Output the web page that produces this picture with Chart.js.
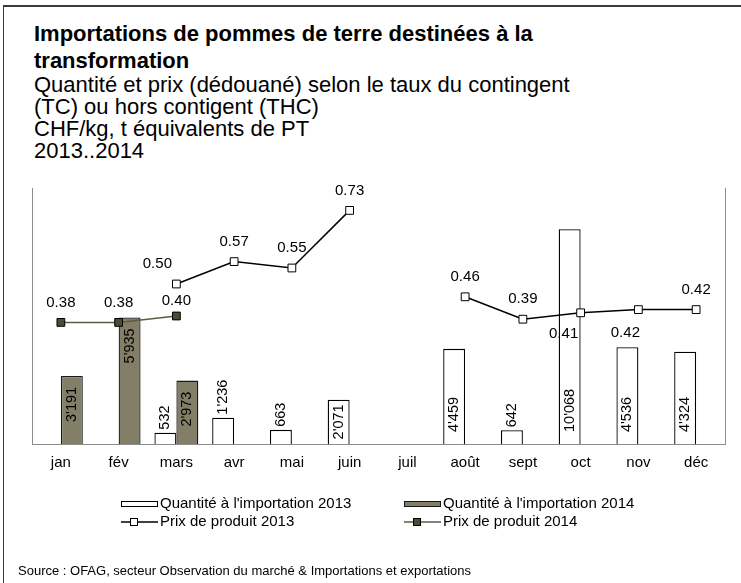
<!DOCTYPE html>
<html>
<head>
<meta charset="utf-8">
<script src="https://cdn.jsdelivr.net/npm/chart.js@4"></script>
<style>
  html, body { margin: 0; padding: 0; background: #fff; }
  #wrap { position: relative; width: 741px; height: 583px; overflow: hidden; font-family: "Liberation Sans", Arial, sans-serif; color: #000; }
  #frame { position: absolute; left: 3px; top: 5px; right: -10px; bottom: -10px; border-left: 1.5px solid #3a3a3a; border-top: 2px solid #3a3a3a; }
  #title { position: absolute; left: 34px; top: 21px; font-size: 22px; font-weight: bold; line-height: 26.5px; white-space: nowrap; }
  #subtitle { position: absolute; left: 34px; top: 74px; font-size: 22px; line-height: 22px; white-space: nowrap; }
  #source { position: absolute; left: 18px; top: 563px; font-size: 13px; line-height: 15px; white-space: nowrap; }
  #chart { position: absolute; left: 0; top: 0; }
</style>
</head>
<body>
<div id="wrap">
  <div id="frame"></div>
  <div id="title">Importations de pommes de terre destinées à la<br>transformation</div>
  <div id="subtitle">Quantité et prix (dédouané) selon le taux du contingent<br>(TC) ou hors contigent (THC)<br>CHF/kg, t équivalents de PT<br>2013..2014</div>
  <canvas id="chart" width="741" height="583"></canvas>
  <div id="source">Source : OFAG, secteur Observation du marché &amp; Importations et exportations</div>
</div>
<script>
// Data
const months = ['jan', 'fév', 'mars', 'avr', 'mai', 'juin', 'juil', 'août', 'sept', 'oct', 'nov', 'déc'];
const qty2013 = [null, null, 532, 1236, 663, 2071, null, 4459, 642, 10068, 4536, 4324];
const qty2014 = [3191, 5935, 2973, null, null, null, null, null, null, null, null, null];
const price2013 = [null, null, 0.50, 0.57, 0.55, 0.73, null, 0.46, 0.39, 0.41, 0.42, 0.42];
const price2014 = [0.38, 0.38, 0.40, null, null, null, null, null, null, null, null, null];

// label placement tweaks (index -> [dx, dy])
const shift2013 = { 2: [-19, -20], 9: [-17, 21], 10: [-13, 23] };
const shift2014 = { 2: [0, -15] };

const FONT = '"Liberation Sans", Arial, sans-serif';
const OLIVE = '#837e68';

function fmtQty(v) {
    return String(v).replace(/\B(?=(\d{3})+(?!\d))/g, "'");
}

// Value labels for bars and price points
const valueLabels = {
    id: 'valueLabels',
    afterDatasetsDraw(chart) {
        const ctx = chart.ctx;
        ctx.save();
        ctx.fillStyle = '#000';
        chart.data.datasets.forEach((ds, di) => {
            const meta = chart.getDatasetMeta(di);
            meta.data.forEach((el, i) => {
                const v = ds.data[i];
                if (v === null || v === undefined) return;
                if (ds.type === 'bar') {
                    ctx.font = '14.5px ' + FONT;
                    const txt = fmtQty(v);
                    const w = ctx.measureText(txt).width;
                    const h = el.base - el.y;
                    ctx.save();
                    ctx.textBaseline = 'middle';
                    if (ds.labelPos === 'end') {
                        ctx.translate(el.x, el.y + 11);
                        ctx.rotate(-Math.PI / 2);
                        ctx.textAlign = 'right';
                    } else if (h >= w + 24) {
                        ctx.translate(el.x, el.base - 12);
                        ctx.rotate(-Math.PI / 2);
                        ctx.textAlign = 'left';
                    } else if (h >= w + 4) {
                        ctx.translate(el.x, (el.y + el.base) / 2);
                        ctx.rotate(-Math.PI / 2);
                        ctx.textAlign = 'center';
                    } else {
                        ctx.translate(el.x, el.y - 3);
                        ctx.rotate(-Math.PI / 2);
                        ctx.textAlign = 'left';
                    }
                    ctx.fillText(txt, 0, 0);
                    ctx.restore();
                } else {
                    const s = (ds.labelShift && ds.labelShift[i]) || [0, -20];
                    ctx.font = '15px ' + FONT;
                    ctx.textAlign = 'center';
                    ctx.textBaseline = 'middle';
                    ctx.fillText(v.toFixed(2), el.x + s[0], el.y + s[1]);
                }
            });
        });
        ctx.restore();
    }
};

// Legend in two columns
const gridLegend = {
    id: 'gridLegend',
    afterDraw(chart) {
        const ctx = chart.ctx;
        const cols = [121, 404];
        const rows = [504, 522];
        ctx.save();
        chart.data.datasets.forEach((ds, i) => {
            const x = cols[i % 2];
            const y = rows[Math.floor(i / 2)];
            if (ds.type === 'bar') {
                ctx.fillStyle = ds.backgroundColor;
                ctx.strokeStyle = ds.borderColor;
                ctx.lineWidth = 1;
                ctx.fillRect(x, y - 2.5, 37, 5);
                ctx.strokeRect(x + 0.5, y - 2.5, 36, 5);
            } else {
                ctx.strokeStyle = ds.borderColor;
                ctx.lineWidth = 1.5;
                ctx.beginPath();
                ctx.moveTo(x, y);
                ctx.lineTo(x + 37, y);
                ctx.stroke();
                ctx.fillStyle = ds.pointBackgroundColor;
                ctx.strokeStyle = ds.pointBorderColor;
                ctx.lineWidth = 1;
                ctx.fillRect(x + 9, y - 3.5, 7, 7);
                ctx.strokeRect(x + 9.5, y - 3.5, 7, 7);
            }
            ctx.fillStyle = '#000';
            ctx.font = '15px ' + FONT;
            ctx.textAlign = 'left';
            ctx.textBaseline = 'middle';
            ctx.fillText(ds.label, x + 39, y);
        });
        ctx.restore();
    }
};

var ctx = document.getElementById('chart').getContext('2d');
var chart = new Chart(ctx, {
    data: {
        labels: months,
        datasets: [{
            type: 'bar',
            label: "Quantité à l'importation 2013",
            data: qty2013,
            yAxisID: 'y',
            backgroundColor: '#ffffff',
            borderColor: '#000000',
            borderWidth: 1.3,
            categoryPercentage: 0.76,
            barPercentage: 1.0,
            labelPos: 'base',
            order: 2
        }, {
            type: 'bar',
            label: "Quantité à l'importation 2014",
            data: qty2014,
            yAxisID: 'y',
            backgroundColor: OLIVE,
            borderColor: '#1a1a1a',
            borderWidth: 1.3,
            categoryPercentage: 0.76,
            barPercentage: 1.0,
            labelPos: 'end',
            order: 2
        }, {
            type: 'line',
            label: 'Prix de produit 2013',
            data: price2013,
            yAxisID: 'y1',
            borderColor: '#000000',
            borderWidth: 1.5,
            pointStyle: 'rect',
            pointRadius: 5.5,
            pointBackgroundColor: '#ffffff',
            pointBorderColor: '#000000',
            pointBorderWidth: 1,
            spanGaps: false,
            labelShift: shift2013,
            order: 0
        }, {
            type: 'line',
            label: 'Prix de produit 2014',
            data: price2014,
            yAxisID: 'y1',
            borderColor: '#5f5a45',
            borderWidth: 1.5,
            pointStyle: 'rect',
            pointRadius: 5.5,
            pointBackgroundColor: '#4f4a35',
            pointBorderColor: '#000000',
            pointBorderWidth: 1,
            labelShift: shift2014,
            order: 1
        }]
    },
    options: {
        responsive: false,
        animation: false,
        layout: { padding: { left: 32, right: 16, top: 188, bottom: 0 } },
        plugins: {
            legend: { display: false },
            tooltip: { enabled: false },
            title: { display: false }
        },
        scales: {
            x: {
                grid: { display: false, drawTicks: false },
                border: { display: true, color: '#8c8c8c', width: 1 },
                ticks: { color: '#000', padding: 10, font: { family: FONT, size: 15 } },
                afterFit: function (scale) { scale.height = 139; }
            },
            y: {
                position: 'left',
                min: 0,
                max: 12000,
                grid: { display: false, drawTicks: false },
                border: { display: true, color: '#8c8c8c', width: 1 },
                ticks: { display: false },
                afterFit: function (scale) { scale.width = 0; }
            },
            y1: {
                position: 'right',
                min: 0,
                max: 0.8,
                grid: { display: false, drawTicks: false },
                border: { display: true, color: '#8c8c8c', width: 1 },
                ticks: { display: false },
                afterFit: function (scale) { scale.width = 0; }
            }
        }
    },
    plugins: [valueLabels, gridLegend]
});
</script>
</body>
</html>
